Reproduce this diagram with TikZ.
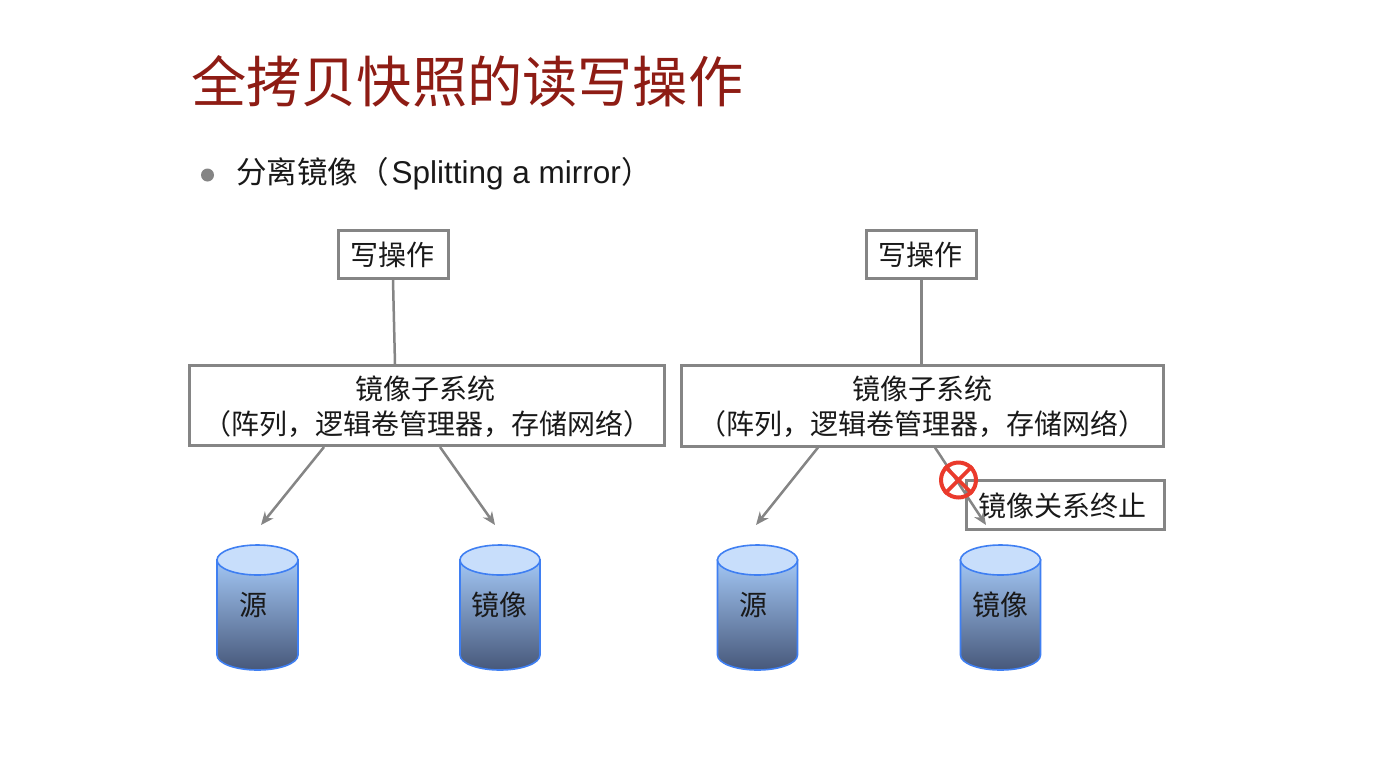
\documentclass[tikz,border=0pt]{standalone}
\usepackage{fontspec}
\setmainfont{Liberation Sans}
\newfontfamily\cjk{Noto Sans CJK SC}
\usetikzlibrary{arrows.meta}
\definecolor{titlered}{HTML}{8E1C14}
\definecolor{boxgrey}{HTML}{858585}
\definecolor{cylblue}{HTML}{3F7FF2}
\definecolor{cyltop}{HTML}{C8DEFB}
\definecolor{cylhigh}{HTML}{A2C6F4}
\definecolor{cylmid}{HTML}{88A9D8}
\definecolor{cyllow}{HTML}{47587A}
\definecolor{banred}{HTML}{EA3A2C}
\tikzset{
  x=1pt,y=-1pt,
  labelbox/.style={draw=boxgrey,line width=3pt,fill=white,inner sep=0pt,align=center,font=\cjk\fontsize{28}{35}\selectfont,text=black!90},
  feed/.style={draw=boxgrey,line width=2.5pt},
  flow/.style={feed,-{Stealth[length=13pt,width=11pt]}},
  cyltext/.style={font=\cjk\fontsize{28}{34}\selectfont,text=black!90,inner sep=0pt},
  forbid/.style={draw=banred,line width=3.6pt},
}
% Lowers a line of box text by reserving more room above than below it
\newcommand{\boxline}[1]{\raisebox{0pt}[27pt][5pt]{#1}}
% Storage cylinder: #1 = left edge, #2 = right edge
\newcommand{\storagecyl}[2]{%
  \pgfmathsetmacro{\mx}{(#1+#2)/2}
  \pgfmathsetmacro{\rx}{(#2-#1)/2}
  \path[top color=cylhigh,middle color=cylmid,bottom color=cyllow,draw=cylblue,line width=1.6pt]
    (#1,560) -- (#1,655) arc[start angle=180,end angle=360,x radius=\rx,y radius=-15] -- (#2,560) -- cycle;
  \path[fill=cyltop,draw=cylblue,line width=1.6pt] (\mx,560) ellipse[x radius=\rx,y radius=15];
}
\begin{document}
\begin{tikzpicture}
\useasboundingbox (0,0) rectangle (1394,756);
\fill[white] (0,0) rectangle (1394,756);

\node[anchor=west,inner sep=0pt,text=titlered,font=\cjk\fontsize{55.2}{64}\selectfont] (title) at (191,81) {全拷贝快照的读写操作};
\node[circle,fill=boxgrey,minimum size=13pt,inner sep=0pt] (bullet) at (207.5,175) {};
\node[anchor=west,inner sep=0pt,font=\fontsize{31.5}{36}\selectfont,text=black!90] (sub) at (236,174) {{\cjk\fontsize{30.5}{36}\selectfont 分离镜像（}\kern3pt Splitting a mirror{\cjk\fontsize{30.5}{36}\selectfont ）}};

% Left group
\node[labelbox,minimum width=110pt,minimum height=48pt] (wl) at (393,254.5) {写操作\kern2pt};
\node[labelbox,minimum width=475pt,minimum height=80pt] (ml) at (427,405.5) {\boxline{镜像子系统\kern3pt}\\\boxline{（阵列，逻辑卷管理器，存储网络）}};
\draw[feed] (wl.south) -- (ml.north -| 395,0);

\coordinate (al) at (261,525);
\coordinate (bl) at (495,525);
\draw[flow] (ml.south -| 324,0) -- (al);
\draw[flow] (ml.south -| 440,0) -- (bl);

\storagecyl{217}{298}
\node[cyltext] (srcl) at (253,605) {源};
\storagecyl{460}{540}
\node[cyltext] (mirl) at (499,605) {镜像};

% Right group
\node[labelbox,minimum width=110pt,minimum height=48pt] (wr) at (921.5,254.5) {写操作\kern2pt};
\node[labelbox,minimum width=482pt,minimum height=81pt] (mr) at (922.5,405.5) {\boxline{镜像子系统}\\\boxline{（阵列，逻辑卷管理器，存储网络）}};
\draw[feed] (wr.south) -- (wr.south |- mr.north);

\node[labelbox,minimum width=198pt,minimum height=49pt] (stop) at (1065,505) {\boxline{镜像关系终止\kern6pt}};

\coordinate (ar) at (756,525);
\coordinate (br) at (986,525);
\draw[flow] (mr.south -| 818,0) -- (ar);
\draw[flow] (mr.south -| 935,0) -- (br);

\storagecyl{717.5}{797.5}
\node[cyltext] (srcr) at (753,605) {源};
\storagecyl{960.5}{1040.5}
\node[cyltext] (mirr) at (1000,605) {镜像};

% Prohibition mark over the severed link
\node[circle,draw=banred,line width=4pt,minimum size=35pt,inner sep=0pt] (ban) at (958.5,480) {};
\draw[forbid] (ban.north west) -- (ban.south east);
\draw[forbid] (ban.north east) -- (ban.south west);
\end{tikzpicture}
\end{document}
